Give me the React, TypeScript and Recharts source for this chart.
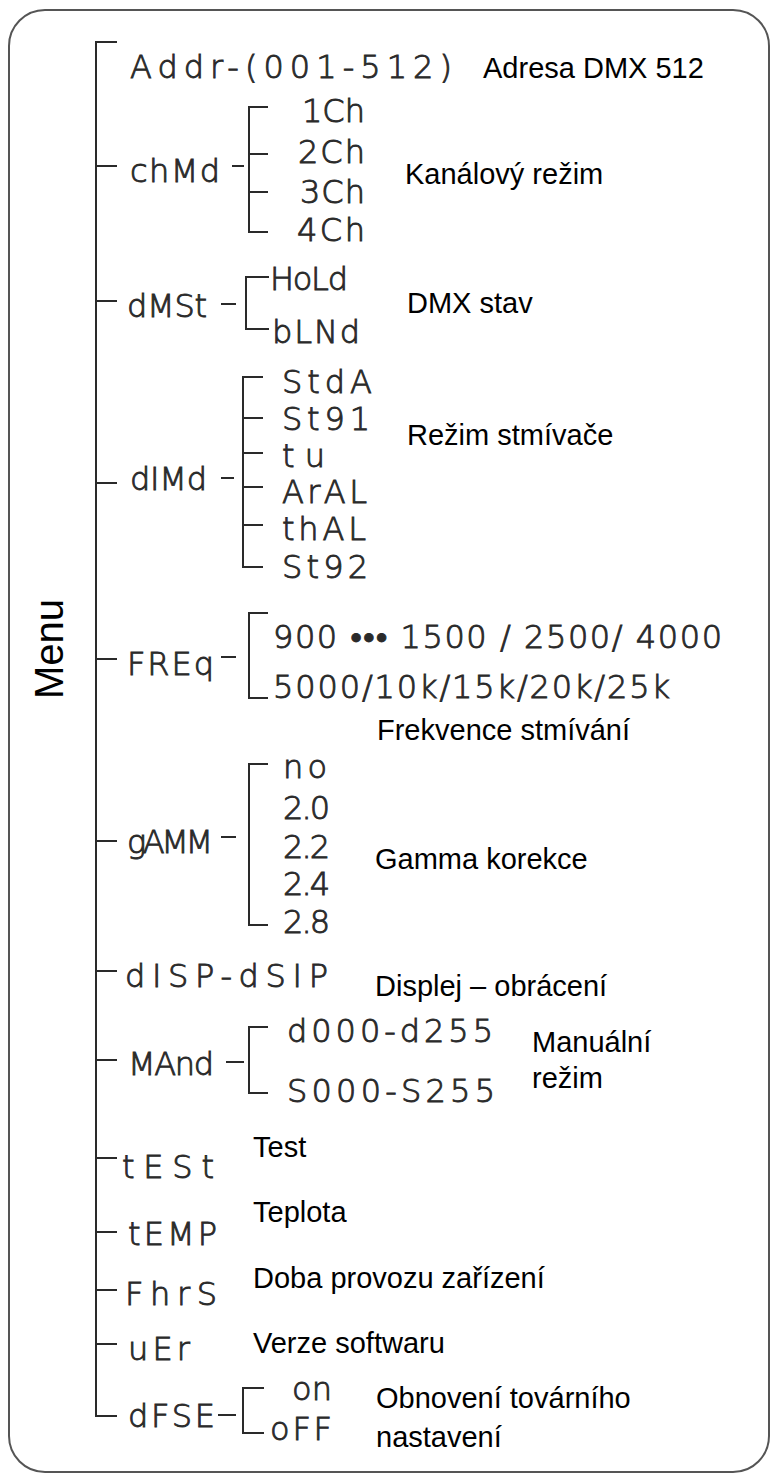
import React from 'react';
import { ScatterChart, Scatter, XAxis, YAxis, ReferenceLine, ReferenceArea } from 'recharts';

const WIDTH = 771;
const HEIGHT = 1474;

// menu codes as they appear on the display
const menuCodes = ['Addr-(001-512)', 'chMd', 'dMSt', 'dIMd', 'FREq', 'gAMM', 'dISP-dSIP', 'MAnd', 'tESt', 'tEMP', 'FhrS', 'uEr', 'dFSE'];

// czech descriptions, one entry per printed line
const descriptionLines = [
  'Adresa DMX 512',
  'Kanálový režim',
  'DMX stav',
  'Režim stmívače',
  'Frekvence stmívání',
  'Gamma korekce',
  'Displej – obrácení',
  'Manuální',
  'režim',
  'Test',
  'Teplota',
  'Doba provozu zařízení',
  'Verze softwaru',
  'Obnovení továrního',
  'nastavení',
];

// submenu options
const chMdOptions = ['1Ch', '2Ch', '3Ch', '4Ch'];
const dMStOptions = ['HoLd', 'bLNd'];
const dIMdOptions = ['StdA', 'St91', 'tu', 'ArAL', 'thAL', 'St92'];
const freqOptions = ['900 ••• 1500 / 2500/ 4000', '5000/10k/15k/20k/25k'];
const gammaOptions = ['no', '2.0', '2.2', '2.4', '2.8'];
const manualOptions = ['d000-d255', 'S000-S255'];
const resetOptions = ['on', 'oFF'];

// layout of the tree (diagram units, y grows downwards)
const TREE_X = 96;
const TICK_END = 116;
const menuTickY = [42, 166, 301, 483, 659, 841, 971, 1060, 1158, 1232, 1290, 1344, 1416];
const menuTextX = [130, 130, 127, 130, 127, 127, 125, 128, 122, 128, 125, 128, 128];
const menuTextY = [78, 182, 317, 490, 675, 853, 987, 1075, 1178, 1245, 1305, 1360, 1427];
const menuTextLen = [322, 90, 80, 77, 87, 86, 203, 86, 92, 89, 92, 62, 87];

const descX = [483, 405, 407, 407, 377, 375, 375, 532, 532, 253, 253, 253, 253, 376, 376];
const descY = [78, 184, 313, 445, 740, 869, 996, 1052, 1088, 1157, 1222, 1288, 1353, 1408, 1447];

interface Submenu {
  options: string[];
  bracketX: number;
  ticks: number[];
  tickEnd: number;
  dash: [number, number, number];
  textX: number[];
  textY: number[];
  textLen: number[];
}

const submenus: Submenu[] = [
  { options: chMdOptions, bracketX: 249, ticks: [107, 154, 192, 232], tickEnd: 267, dash: [233, 243, 166], textX: [302, 298, 300, 297], textY: [122, 163, 203, 241], textLen: [63, 67, 65, 68] },
  { options: dMStOptions, bracketX: 246, ticks: [277, 329], tickEnd: 268, dash: [222, 235, 304], textX: [270, 272], textY: [290, 343], textLen: [78, 88] },
  { options: dIMdOptions, bracketX: 243, ticks: [377, 418, 453, 487, 525, 567], tickEnd: 262, dash: [222, 233, 478], textX: [282, 282, 282, 282, 282, 282], textY: [393, 430, 467, 503, 540, 578], textLen: [90, 88, 43, 85, 84, 86] },
  { options: freqOptions, bracketX: 249, ticks: [613, 698], tickEnd: 267, dash: [222, 235, 657], textX: [273, 273], textY: [648, 698], textLen: [449, 397] },
  { options: gammaOptions, bracketX: 249, ticks: [764, 925], tickEnd: 267, dash: [222, 235, 837], textX: [283, 283, 283, 283, 283], textY: [778, 819, 858, 895, 933], textLen: [44, 47, 47, 47, 47] },
  { options: manualOptions, bracketX: 249, ticks: [1027, 1093], tickEnd: 267, dash: [227, 243, 1062], textX: [287, 287], textY: [1042, 1102], textLen: [206, 208] },
  { options: resetOptions, bracketX: 243, ticks: [1388, 1433], tickEnd: 263, dash: [219, 235, 1415], textX: [292, 270], textY: [1400, 1440], textLen: [40, 62] },
];

const codePoints = [
  ...menuCodes.map((label, i) => ({ x: menuTextX[i], y: menuTextY[i], label, len: menuTextLen[i] })),
  ...submenus.flatMap((s) => s.options.map((label, i) => ({ x: s.textX[i], y: s.textY[i], label, len: s.textLen[i] }))),
];

const descPoints = descriptionLines.map((label, i) => ({ x: descX[i], y: descY[i], label }));

const titlePoint = [{ x: 49, y: 649, label: 'Menu' }];

type Seg = [number, number, number, number];
const segments: Seg[] = [
  [TREE_X, menuTickY[0], TREE_X, menuTickY[menuTickY.length - 1]],
  ...menuTickY.map((y): Seg => [TREE_X, y, TICK_END, y]),
  ...submenus.flatMap((s): Seg[] => [
    [s.bracketX, s.ticks[0], s.bracketX, s.ticks[s.ticks.length - 1]],
    ...s.ticks.map((t): Seg => [s.bracketX, t, s.tickEnd, t]),
    [s.dash[0], s.dash[2], s.dash[1], s.dash[2]],
  ]),
];

// display codes: thin face with a light outline, so it reads like the segment digits
const CodeText = (props: any) => {
  const { cx, cy, payload } = props;
  return (
    <text
      x={cx}
      y={cy}
      textLength={payload.len}
      lengthAdjust="spacing"
      fontFamily="'DejaVu Sans', sans-serif"
      fontWeight={300}
      fontSize={32}
      fill="#2a2a2a"
      stroke="#2a2a2a"
      strokeWidth={0.9}
    >
      {payload.label}
    </text>
  );
};

const DescText = (props: any) => {
  const { cx, cy, payload } = props;
  return (
    <text x={cx} y={cy} fontFamily="'Liberation Sans', Arial, sans-serif" fontSize={29} fill="#000">
      {payload.label}
    </text>
  );
};

const TitleText = (props: any) => {
  const { cx, cy, payload } = props;
  return (
    <text
      x={cx}
      y={cy}
      transform={`rotate(-90 ${cx} ${cy})`}
      textAnchor="middle"
      dominantBaseline="central"
      fontFamily="'Liberation Sans', Arial, sans-serif"
      fontSize={40}
      fill="#000"
    >
      {payload.label}
    </text>
  );
};

const Frame = (props: any) => (
  <rect x={props.x} y={props.y} width={props.width} height={props.height} rx={36} ry={36} fill="none" stroke="#555" strokeWidth={2} />
);

export default function App() {
  return (
    <div style={{ position: 'absolute', left: 0, top: 0, background: '#fff' }}>
      <ScatterChart width={WIDTH} height={HEIGHT} margin={{ top: 0, right: 0, bottom: 0, left: 0 }}>
        <XAxis type="number" dataKey="x" domain={[0, WIDTH]} hide allowDataOverflow />
        <YAxis type="number" dataKey="y" domain={[0, HEIGHT]} reversed hide allowDataOverflow width={0} />
        <ReferenceArea x1={9} x2={769} y1={10} y2={1472} ifOverflow="visible" shape={Frame} />
        {segments.map((s, i) => (
          <ReferenceLine
            key={i}
            segment={[{ x: s[0], y: s[1] }, { x: s[2], y: s[3] }]}
            stroke="#2a2a2a"
            strokeWidth={2}
            strokeLinecap="square"
            ifOverflow="visible"
          />
        ))}
        <Scatter data={codePoints} shape={CodeText} isAnimationActive={false} />
        <Scatter data={descPoints} shape={DescText} isAnimationActive={false} />
        <Scatter data={titlePoint} shape={TitleText} isAnimationActive={false} />
      </ScatterChart>
    </div>
  );
}
